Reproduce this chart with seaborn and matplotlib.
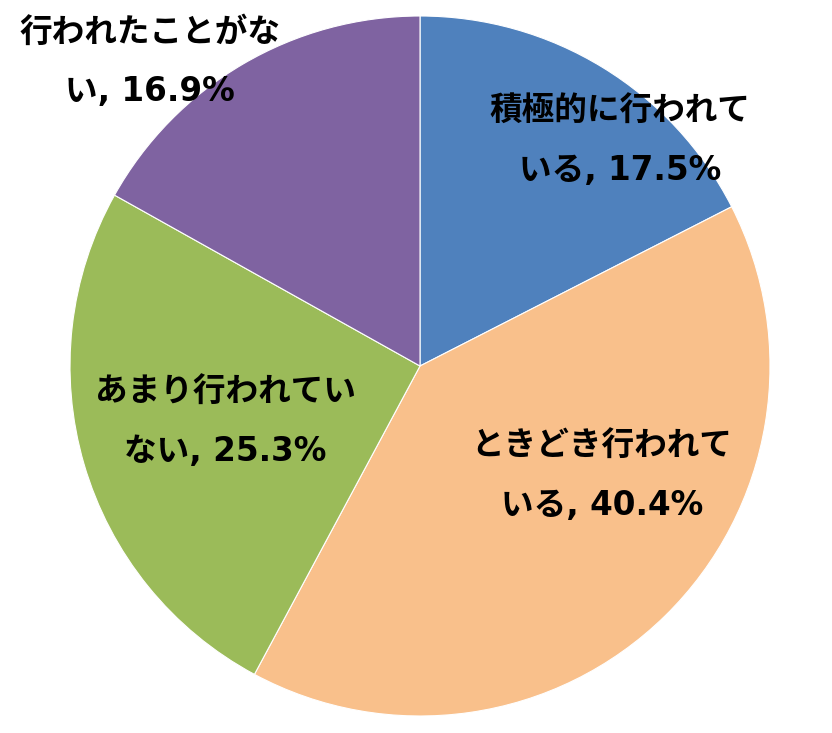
import matplotlib
matplotlib.use("Agg")
import matplotlib.pyplot as plt
import seaborn as sns

labels = ["積極的に行われて\nいる, 17.5%", "ときどき行われて\nいる, 40.4%",
          "あまり行われてい\nない, 25.3%", "行われたことがな\nい, 16.9%"]
values = [17.5, 40.4, 25.3, 16.9]
colors = ["#4F81BD", "#F9C08B", "#9BBB59", "#7F63A1"]
# label centres in axes data units (pie radius = 1)
label_pos = [(0.571, 0.643), (0.52, -0.314), (-0.557, -0.16), (-0.771, 0.869)]

sns.set_theme(style="white")
# latin glyphs from DejaVu (Verdana-like), kana/kanji from Noto CJK
plt.rcParams['font.family'] = ['DejaVu Sans', 'Noto Sans CJK JP']

fig = plt.figure(figsize=(8.32, 7.33), dpi=100)
ax = fig.add_axes([70 / 832, 17 / 733, 700 / 832, 700 / 733])
ax.pie(values, colors=colors, startangle=90, counterclock=False,
       wedgeprops=dict(edgecolor="white", linewidth=0.8))
ax.set_xlim(-1, 1)
ax.set_ylim(-1, 1)
ax.axis("off")

for lab, (x, y) in zip(labels, label_pos):
    ax.text(x, y, lab, ha="center", va="center", fontsize=23.5,
            fontweight="bold", color="black", linespacing=2.0)

fig.savefig("out.png", dpi=100)
